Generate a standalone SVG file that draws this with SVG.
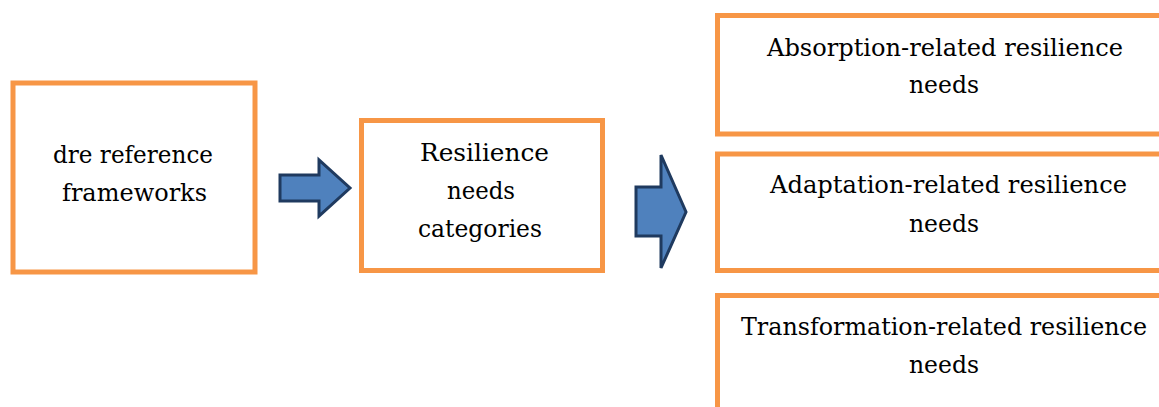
<svg xmlns="http://www.w3.org/2000/svg" width="1159" height="407" viewBox="0 0 1159 407">
<style>
.box{fill:#ffffff;stroke:#F79646;stroke-width:5}
.edge{fill:none;stroke:#F79646;stroke-width:5;stroke-linejoin:miter}
.bg{fill:#ffffff;stroke:none}
.lbl{font-family:"DejaVu Serif",serif;font-size:25px;fill:#000000;text-anchor:middle}
.arr{fill:#4F81BD;stroke:#1F3A5F;stroke-width:3;stroke-linejoin:miter}
</style>
<rect width="1159" height="407" fill="#ffffff"/>
<g id="node-frameworks">
<rect class="box" x="13" y="83" width="242" height="189"/>
<text class="lbl" x="133" y="163" textLength="160" lengthAdjust="spacingAndGlyphs">dre reference</text>
<text class="lbl" x="134.5" y="201" textLength="145" lengthAdjust="spacingAndGlyphs">frameworks</text>
</g>
<g id="node-categories">
<rect class="box" x="361.5" y="120.5" width="241" height="150"/>
<text class="lbl" x="484.5" y="161" textLength="129" lengthAdjust="spacingAndGlyphs">Resilience</text>
<text class="lbl" x="481" y="199" textLength="68" lengthAdjust="spacingAndGlyphs">needs</text>
<text class="lbl" x="480" y="237" textLength="124" lengthAdjust="spacingAndGlyphs">categories</text>
</g>
<g id="node-absorption">
<rect class="bg" x="717.5" y="15.5" width="441.5" height="118.5"/>
<path class="edge" d="M1159,15.5 H717.5 V134 H1159"/>
<text class="lbl" x="945" y="56" textLength="356" lengthAdjust="spacingAndGlyphs">Absorption-related resilience</text>
<text class="lbl" x="944" y="93" textLength="70" lengthAdjust="spacingAndGlyphs">needs</text>
</g>
<g id="node-adaptation">
<rect class="bg" x="717.5" y="154" width="441.5" height="116.5"/>
<path class="edge" d="M1159,154 H717.5 V270.5 H1159"/>
<text class="lbl" x="948.5" y="193" textLength="357" lengthAdjust="spacingAndGlyphs">Adaptation-related resilience</text>
<text class="lbl" x="944" y="232" textLength="70" lengthAdjust="spacingAndGlyphs">needs</text>
</g>
<g id="node-transformation">
<rect class="bg" x="717.5" y="295.5" width="441.5" height="111.5"/>
<path class="edge" d="M1159,295.5 H717.5 V407"/>
<text class="lbl" x="944" y="335" font-size="24" textLength="406" lengthAdjust="spacingAndGlyphs">Transformation-related resilience</text>
<text class="lbl" x="944" y="373" textLength="70" lengthAdjust="spacingAndGlyphs">needs</text>
</g>
<g id="connectors">
<path class="arr" d="M280,175 L319,175 L319,160 L350,188 L319,216 L319,201 L280,201 Z"/>
<path class="arr" d="M636,187 L661,187 L661,155 L686,212 L661,268 L661,236 L636,236 Z"/>
</g>
</svg>
